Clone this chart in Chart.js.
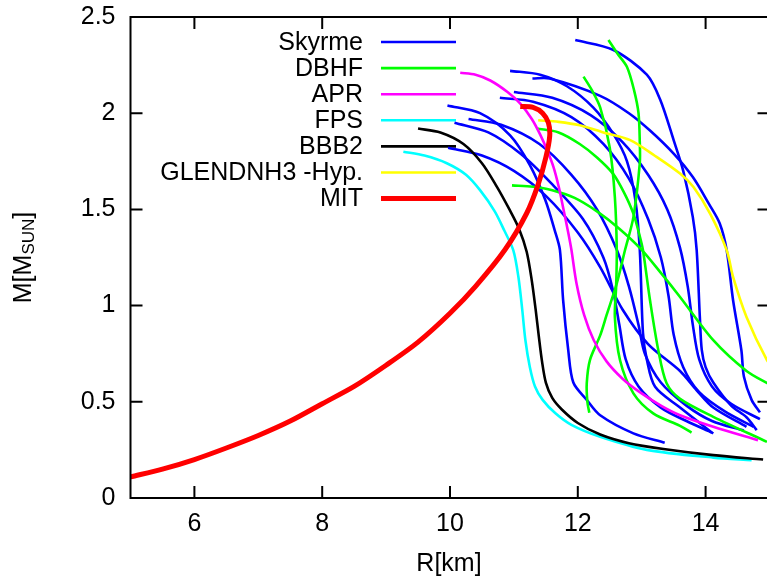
<!DOCTYPE html>
<html>
<head>
<meta charset="utf-8">
<script src="https://cdn.jsdelivr.net/npm/chart.js@4.4.0/dist/chart.umd.min.js"></script>
<style>
  html, body { margin: 0; padding: 0; background: #fff; overflow: hidden; }
  #wrap { position: relative; width: 772px; height: 577px; }
</style>
</head>
<body>
<div id="wrap"><canvas id="myChart"></canvas></div>
<script>
// === Achsen ===
const X_TICKS = [6, 8, 10, 12, 14];
const Y_TICKS = [0, 0.5, 1, 1.5, 2, 2.5];
const X_TITLE = 'R[km]';
const Y_TITLE = ['M[M', 'SUN', ']'];

// === Kurven [R, M] ===
const skyrme1 = [[11.96,2.38],[12.55,2.33],[13.08,2.20],[13.29,2.07],[13.5,1.86],[13.65,1.70],[13.80,1.46],[13.86,1.29],[13.91,0.94],[13.94,0.77],[14.0,0.68],[14.12,0.60],[14.4,0.48],[14.64,0.42],[14.8,0.353]];
const skyrme2 = [[10.94,2.22],[11.41,2.20],[11.83,2.14],[12.24,2.03],[12.56,1.89],[12.77,1.75],[12.9,1.55],[12.97,1.29],[13.02,0.857],[13.08,0.72],[13.21,0.578],[13.6,0.47],[14.12,0.335]];
const skyrme3 = [[11.29,2.18],[11.56,2.18],[12.35,2.09],[12.8,2.0],[13.13,1.91],[13.5,1.79],[13.80,1.668],[14.05,1.53],[14.22,1.428],[14.33,1.288],[14.43,1.028],[14.56,0.768],[14.6,0.63],[14.72,0.51],[14.85,0.445]];
const skyrme4 = [[11.0,2.11],[11.6,2.08],[12.2,1.99],[12.7,1.85],[13.1,1.68],[13.4,1.50],[13.6,1.30],[13.72,1.10],[13.8,0.90],[13.9,0.72],[14.1,0.58],[14.4,0.49],[14.85,0.41]];
const skyrme5 = [[10.78,2.08],[11.3,2.06],[11.9,1.98],[12.4,1.84],[12.8,1.66],[13.1,1.45],[13.3,1.25],[13.42,1.05],[13.5,0.85],[13.65,0.68],[13.9,0.55],[14.3,0.45],[14.75,0.37]];
const skyrme6 = [[9.96,2.04],[10.47,2.0],[10.94,1.885],[11.25,1.73],[11.49,1.55],[11.64,1.39],[11.72,1.29],[11.77,1.03],[11.85,0.77],[11.93,0.6],[12.14,0.51],[12.35,0.43],[12.87,0.336],[13.36,0.287]];
const skyrme7 = [[10.29,1.97],[10.8,1.94],[11.4,1.84],[11.9,1.68],[12.3,1.50],[12.61,1.29],[12.8,1.1],[12.95,0.9],[13.05,0.75],[13.3,0.6],[13.7,0.48],[14.1,0.40],[14.6,0.35]];
const skyrme8 = [[10.07,1.95],[10.6,1.90],[11.1,1.79],[11.57,1.64],[12.08,1.45],[12.4,1.25],[12.55,1.08],[12.65,0.9],[12.75,0.72],[12.95,0.58],[13.3,0.47],[13.7,0.40],[14.1,0.34]];
const skyrme9 = [[9.97,1.82],[10.5,1.78],[11.0,1.70],[11.5,1.57],[12.0,1.38],[12.35,1.20],[12.7,0.98],[13.1,0.80],[13.6,0.66],[13.86,0.56],[14.12,0.47],[14.64,0.37]];

const dbhf1 = [[12.48,2.38],[12.62,2.31],[12.77,2.24],[12.88,2.12],[12.95,2.0],[12.97,1.85],[12.97,1.74],[12.87,1.46],[12.74,1.29],[12.61,1.115],[12.45,0.95],[12.35,0.845],[12.19,0.717],[12.14,0.596],[12.15,0.5],[12.18,0.443]];
const dbhf2 = [[12.09,2.19],[12.22,2.12],[12.35,2.03],[12.5,1.82],[12.58,1.564],[12.61,1.288],[12.6,1.1],[12.58,0.94],[12.66,0.717],[12.87,0.544],[13.18,0.44],[13.6,0.375],[13.78,0.34]];
const dbhf3 = [[11.36,1.92],[11.7,1.90],[12.03,1.84],[12.3,1.77],[12.55,1.686],[12.72,1.59],[12.87,1.478],[12.97,1.36],[13.02,1.288],[13.13,1.028],[13.26,0.768],[13.39,0.596],[13.6,0.515],[14.12,0.422],[14.96,0.292]];
const dbhf4 = [[10.97,1.625],[11.3,1.618],[11.6,1.60],[11.95,1.56],[12.3,1.49],[12.65,1.40],[13.0,1.29],[13.3,1.17],[13.6,1.045],[14.12,0.82],[14.64,0.66],[15.0,0.59]];

const apr = [[10.16,2.21],[10.4,2.2],[10.63,2.17],[10.9,2.11],[11.1,2.05],[11.28,1.97],[11.41,1.89],[11.53,1.80],[11.62,1.72],[11.7,1.62],[11.77,1.51],[11.85,1.38],[11.9,1.29],[11.98,1.115],[12.1,0.95],[12.25,0.82],[12.45,0.71],[12.7,0.62],[12.97,0.55],[13.3,0.48],[13.6,0.43],[14.12,0.37],[14.82,0.30]];
const fps = [[9.27,1.80],[9.6,1.78],[9.95,1.74],[10.25,1.68],[10.47,1.60],[10.7,1.49],[10.85,1.39],[10.99,1.288],[11.07,1.15],[11.13,0.98],[11.18,0.82],[11.25,0.68],[11.33,0.58],[11.45,0.51],[11.65,0.44],[11.9,0.38],[12.35,0.318],[13.08,0.25],[14.12,0.21],[14.72,0.197]];
const bbb2 = [[9.5,1.92],[9.85,1.90],[10.21,1.84],[10.5,1.74],[10.73,1.62],[10.93,1.50],[11.08,1.40],[11.2,1.28],[11.28,1.13],[11.34,0.98],[11.39,0.84],[11.44,0.71],[11.5,0.60],[11.6,0.52],[11.75,0.46],[12.0,0.39],[12.35,0.33],[12.8,0.285],[13.34,0.255],[14.12,0.223],[14.9,0.20]];
const glend = [[11.38,1.963],[11.7,1.955],[12.03,1.937],[12.4,1.90],[12.82,1.86],[13.2,1.78],[13.6,1.686],[13.81,1.616],[14.07,1.478],[14.33,1.288],[14.43,1.149],[14.64,0.941],[14.96,0.717],[15.1,0.66]];
const mit = [[5.0,0.11],[5.5,0.15],[6.0,0.20],[6.5,0.26],[7.0,0.325],[7.5,0.40],[8.0,0.49],[8.5,0.58],[9.0,0.69],[9.5,0.81],[10.0,0.96],[10.4,1.10],[10.86,1.29],[11.2,1.48],[11.38,1.63],[11.5,1.77],[11.56,1.88],[11.54,1.95],[11.45,2.0],[11.3,2.03],[11.1,2.035]];

// === Gruppen: Name, Farbe, Linienbreite, Kurven ===
const groups = [
    { label: 'Skyrme', color: '#0000ff', width: 2.6, curves: [skyrme1, skyrme2, skyrme3, skyrme4, skyrme5, skyrme6, skyrme7, skyrme8, skyrme9] },
    { label: 'DBHF', color: '#00ff00', width: 2.6, curves: [dbhf1, dbhf2, dbhf3, dbhf4] },
    { label: 'APR', color: '#ff00ff', width: 2.6, curves: [apr] },
    { label: 'FPS', color: '#00ffff', width: 2.6, curves: [fps] },
    { label: 'BBB2', color: '#000000', width: 2.6, curves: [bbb2] },
    { label: 'GLENDNH3 -Hyp.', color: '#ffff00', width: 2.6, curves: [glend] },
    { label: 'MIT', color: '#ff0000', width: 5, curves: [mit] }
];

const FONT = "'Liberation Sans', Arial, sans-serif";

// gnuplot zeichnet in Reihenfolge -> spätere Gruppe liegt oben
const datasets = [];
groups.forEach((g, gi) => {
    g.curves.forEach(c => {
        datasets.push({
            label: g.label,
            data: c.map(p => ({ x: p[0], y: p[1] })),
            showLine: true,
            pointRadius: 0,
            borderColor: g.color,
            borderWidth: g.width,
            tension: 0.3,
            fill: false,
            order: groups.length - gi
        });
    });
});

// === Rahmen, Ticks nach innen, Achsentitel, Key ===
const gnuplotStyle = {
    id: 'gnuplotStyle',
    beforeDatasetsDraw(chart) {
        const ctx = chart.ctx;
        ctx.save();
        ctx.font = '25px ' + FONT;
        ctx.textAlign = 'right';
        ctx.textBaseline = 'middle';
        ctx.fillStyle = '#000';
        groups.forEach((g, i) => {
            const y = 42 + i * 26.1;
            ctx.fillText(g.label, 363, y + 1);
            ctx.beginPath();
            ctx.strokeStyle = g.color;
            ctx.lineWidth = g.width;
            ctx.moveTo(381, y);
            ctx.lineTo(456, y);
            ctx.stroke();
        });
        ctx.restore();
    },
    afterDraw(chart) {
        const ctx = chart.ctx;
        const a = chart.chartArea;
        const xs = chart.scales.x, ys = chart.scales.y;
        ctx.save();
        ctx.strokeStyle = '#000';
        ctx.lineWidth = 2;
        ctx.strokeRect(a.left, a.top, a.right - a.left, a.bottom - a.top);
        ctx.lineWidth = 2;
        ctx.beginPath();
        X_TICKS.forEach(v => {
            const px = xs.getPixelForValue(v);
            ctx.moveTo(px, a.bottom); ctx.lineTo(px, a.bottom - 12);
            ctx.moveTo(px, a.top); ctx.lineTo(px, a.top + 12);
        });
        Y_TICKS.forEach(v => {
            const py = ys.getPixelForValue(v);
            ctx.moveTo(a.left, py); ctx.lineTo(a.left + 12, py);
            ctx.moveTo(a.right, py); ctx.lineTo(a.right - 12, py);
        });
        ctx.stroke();

        // Achsentitel
        ctx.fillStyle = '#000';
        ctx.font = '25px ' + FONT;
        ctx.textAlign = 'center';
        ctx.textBaseline = 'middle';
        ctx.fillText(X_TITLE, 449, 564);

        ctx.translate(31, (a.top + a.bottom) / 2);
        ctx.rotate(-Math.PI / 2);
        ctx.textAlign = 'left';
        ctx.textBaseline = 'alphabetic';
        const big = '25px ' + FONT, small = '17px ' + FONT;
        ctx.font = big;  const w1 = ctx.measureText(Y_TITLE[0]).width;
        ctx.font = small; const w2 = ctx.measureText(Y_TITLE[1]).width;
        ctx.font = big;  const w3 = ctx.measureText(Y_TITLE[2]).width;
        let x0 = -(w1 + w2 + w3) / 2;
        ctx.font = big;   ctx.fillText(Y_TITLE[0], x0, 0); x0 += w1;
        ctx.font = small; ctx.fillText(Y_TITLE[1], x0, 3); x0 += w2;
        ctx.font = big;   ctx.fillText(Y_TITLE[2], x0, 0);
        ctx.restore();
    }
};

new Chart(document.getElementById('myChart'), {
    type: 'scatter',
    data: { datasets: datasets },
    options: {
        responsive: true,
        maintainAspectRatio: false,
        animation: false,
        devicePixelRatio: 1,
        layout: { padding: { left: 0, right: 2.5, top: 17, bottom: 0 } },
        plugins: { legend: { display: false }, tooltip: { enabled: false } },
        scales: {
            x: {
                type: 'linear', min: 5, max: 15,
                afterBuildTicks: s => { s.ticks = X_TICKS.map(v => ({ value: v })); },
                afterFit: s => { s.height = 79; s.paddingLeft = 0; s.paddingRight = 0; },
                grid: { display: false, drawTicks: false },
                border: { display: false },
                ticks: { color: '#000', font: { size: 25, family: FONT }, padding: 11, maxRotation: 0, autoSkip: false, callback: v => String(v) }
            },
            y: {
                type: 'linear', min: 0, max: 2.5,
                afterBuildTicks: s => { s.ticks = Y_TICKS.map(v => ({ value: v })); },
                afterFit: s => { s.width = 130.5; s.paddingTop = 0; s.paddingBottom = 0; },
                grid: { display: false, drawTicks: false },
                border: { display: false },
                ticks: { color: '#000', font: { size: 25, family: FONT }, padding: 15, autoSkip: false, callback: v => String(v) }
            }
        }
    },
    plugins: [gnuplotStyle]
});
</script>
</body>
</html>
